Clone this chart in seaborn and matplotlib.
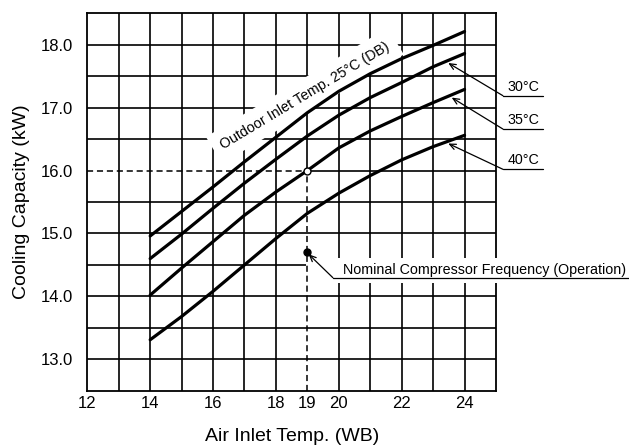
import numpy as np
import pandas as pd
import matplotlib
matplotlib.use("Agg")
import matplotlib.pyplot as plt
import seaborn as sns
from matplotlib.patches import Rectangle

# ---------------- data ----------------
air_inlet_wb = [14, 15, 16, 17, 18, 19, 20, 21, 22, 23, 24]
cap_25c = [14.96, 15.35, 15.74, 16.14, 16.53, 16.92, 17.26, 17.54, 17.78, 17.99, 18.21]
cap_30c = [14.60, 14.99, 15.40, 15.80, 16.18, 16.55, 16.88, 17.16, 17.40, 17.65, 17.86]
cap_35c = [14.02, 14.45, 14.87, 15.29, 15.66, 16.00, 16.36, 16.63, 16.86, 17.08, 17.29]
cap_40c = [13.31, 13.68, 14.08, 14.50, 14.92, 15.32, 15.64, 15.92, 16.17, 16.38, 16.56]
outdoor_temps = ["25°C", "30°C", "35°C", "40°C"]

x_tick_labels = [12, 14, 16, 18, 19, 20, 22, 24]
y_tick_labels = [13.0, 14.0, 15.0, 16.0, 17.0, 18.0]

rated_point = (19, 16.0)
nominal_point = (19, 14.7)

title_curve = "Outdoor Inlet Temp. 25°C (DB)"
nominal_text = "Nominal Compressor Frequency (Operation)"
x_label = "Air Inlet Temp. (WB)"
y_label = "Cooling Capacity (kW)"

# ---------------- style ----------------
sns.set_style("white")
plt.rcParams["font.family"] = ["Liberation Sans", "DejaVu Sans"]
for k in ["text.color", "axes.labelcolor", "xtick.color", "ytick.color"]:
    plt.rcParams[k] = "black"

df = pd.concat([
    pd.DataFrame({"wb": air_inlet_wb, "cap": c, "odt": t})
    for c, t in zip([cap_25c, cap_30c, cap_35c, cap_40c], outdoor_temps)
])

fig = plt.figure(figsize=(6.29, 4.47), dpi=100)
ax = fig.add_axes([87.3 / 629, 1 - 390.7 / 447, (496 - 87.3) / 629, (390.7 - 13.3) / 447])

sns.lineplot(data=df, x="wb", y="cap", hue="odt",
             palette=["black"] * 4, linewidth=2.3, legend=False, ax=ax, zorder=6)

X0, X1, Y0, Y1 = 12, 25, 12.5, 18.5
ax.set_xlim(X0, X1)
ax.set_ylim(Y0, Y1)

xt = np.arange(12, 26, 1)
ax.set_xticks(xt)
ax.set_xticklabels([str(v) if v in x_tick_labels else "" for v in xt], fontsize=12)
yt = np.arange(12.5, 18.51, 0.5)
ax.set_yticks(yt)
ax.set_yticklabels([f"{v:.1f}" if any(abs(v - u) < 1e-6 for u in y_tick_labels) else "" for v in yt],
                   fontsize=12)
ax.tick_params(axis="both", length=0)
ax.tick_params(axis="y", pad=10)
ax.tick_params(axis="x", pad=4)
ax.grid(False)

# manual grid: the rated-point guides replace the grid segments with dashes
glw = 1.2
for yv in yt[1:-1]:
    if abs(yv - rated_point[1]) < 1e-6:
        ax.hlines(yv, rated_point[0], X1, color="black", lw=glw, zorder=1)
    else:
        ax.hlines(yv, X0, X1, color="black", lw=glw, zorder=1)
for xv in xt[1:-1]:
    if xv == rated_point[0]:
        ax.vlines(xv, rated_point[1], Y1, color="black", lw=glw, zorder=1)
    else:
        ax.vlines(xv, Y0, Y1, color="black", lw=glw, zorder=1)

for s in ax.spines.values():
    s.set_color("black")
    s.set_linewidth(1.3)

ax.set_xlabel(x_label, fontsize=14, labelpad=12)
ax.set_ylabel(y_label, fontsize=14, labelpad=8)

# dashed reference lines to rated point
ax.plot([X0, rated_point[0]], [rated_point[1], rated_point[1]], color="black",
        linestyle=(0, (4, 2.5)), linewidth=1.1, zorder=5)
ax.plot([rated_point[0], rated_point[0]], [Y0, rated_point[1]], color="black",
        linestyle=(0, (4, 2.5)), linewidth=1.1, zorder=5)
ax.plot([rated_point[0]], [rated_point[1]], marker="o", markersize=5,
        mfc="white", mec="black", mew=1.0, zorder=7)

# curve label (rotated with white box)
ax.text(18.92, 17.19, title_curve, rotation=31, rotation_mode="anchor",
        ha="center", va="center", fontsize=10.3, zorder=4,
        bbox=dict(boxstyle="square,pad=0.6", fc="white", ec="none"))

# right-hand labels with leaders
label_y = [17.19, 16.66, 16.02]
tips = [(23.48, 17.71), (23.59, 17.16), (23.48, 16.43)]
for lab, yl, tip in zip(outdoor_temps[1:], label_y, tips):
    ax.annotate("", xy=tip, xytext=(25.22, yl), annotation_clip=False,
                arrowprops=dict(arrowstyle="->,head_length=0.45,head_width=0.2",
                                color="black", lw=0.9, shrinkA=0, shrinkB=0), zorder=8)
    ax.plot([25.22, 26.49], [yl, yl], color="black", lw=0.9, clip_on=False, zorder=8)
    ax.text(25.37, yl + 0.08, lab, fontsize=10.3, va="baseline", ha="left")

# nominal compressor frequency annotation
ax.add_patch(Rectangle((18.97, 14.21), 11.0, 0.40, facecolor="white", edgecolor="none",
                       clip_on=False, zorder=3))
ax.plot([nominal_point[0]], [nominal_point[1]], marker="o", markersize=5,
        color="black", zorder=8, clip_on=False)
ax.annotate("", xy=(19.04, 14.67), xytext=(19.81, 14.297), annotation_clip=False,
            arrowprops=dict(arrowstyle="->,head_length=0.45,head_width=0.2",
                            color="black", lw=0.9, shrinkA=0, shrinkB=0), zorder=8)
ax.plot([19.81, 29.5], [14.297, 14.297], color="black", lw=0.9, clip_on=False, zorder=8)
ax.text(20.13, 14.355, nominal_text, fontsize=10.3, va="baseline", ha="left", zorder=9)

fig.savefig("out.png", dpi=100)
